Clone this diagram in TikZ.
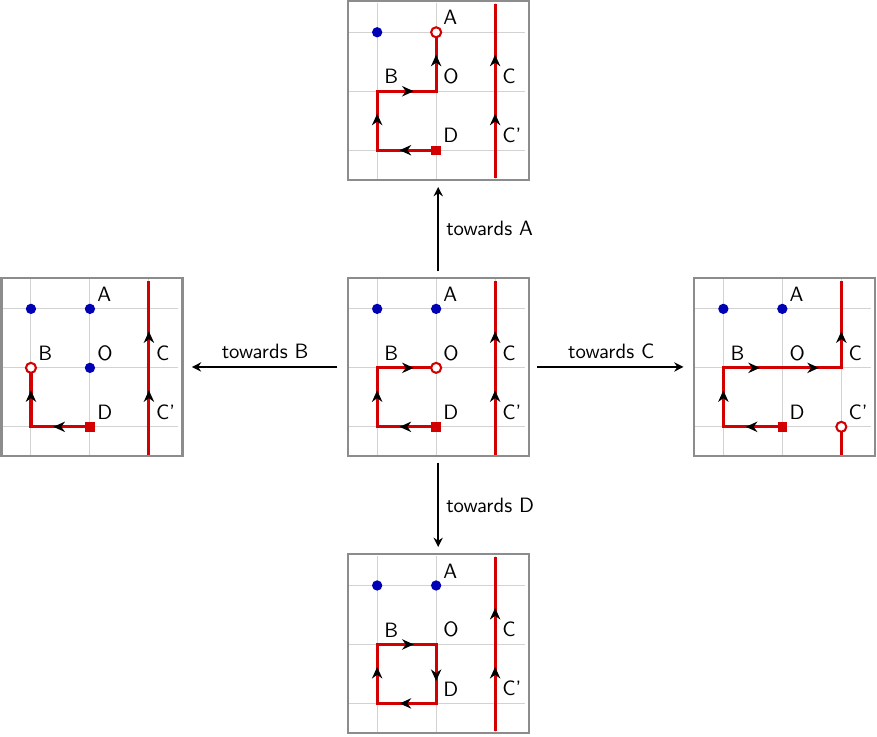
\documentclass[tikz,border=0pt]{standalone}
\usepackage{tikz}
\usetikzlibrary{arrows.meta, positioning, decorations.markings}
\definecolor{C_PATH} {HTML}{D20000}
\definecolor{C_DOT}  {HTML}{0000B4}
\definecolor{C_GRID} {HTML}{D2D2D2}
\definecolor{C_FRAME}{HTML}{8C8C8C}
\tikzset{
  %% -- panel frame --
  pnl/frame/.style={
    draw=C_FRAME, line width=1pt, inner sep=0pt,
    minimum width=3.07cm, minimum height=3.03cm
  },
  %% -- light lattice lines --
  pnl/grid/.style={draw=C_GRID, line width=0.5pt},
  %% -- lattice points --
  pnl/dot/.style={circle, fill=C_DOT, minimum size=0.175cm, inner sep=0pt},
  pnl/open/.style={circle, draw=C_PATH, fill=white, line width=1pt,
    minimum size=0.17cm, inner sep=0pt},
  pnl/start/.style={rectangle, fill=C_PATH, minimum size=0.16cm, inner sep=0pt},
  %% -- point letters --
  pnl/lbl/.style={anchor=south west, font=\sffamily},
  %% -- red strands, one black tip per unit step --
  pnl/line/.style={draw=C_PATH, line width=1.5pt},
  pnl/path/.style={
    pnl/line, postaction={decorate},
    decoration={markings,
      mark=between positions #1 and 1 step 1cm with
        {\arrow[black]{Stealth[length=5.6pt, width=5pt, inset=1.8pt]}}}
  },
  pnl/path/.default=0.62cm,
  %% -- moves between panels --
  pnl/move/.style={-{Stealth[length=4.5pt, width=4.5pt, inset=1.5pt]},
    line width=1.1pt, shorten <=2.5pt, shorten >=3pt},
  pnl/mvlbl/.style={font=\sffamily},
}
\begin{document}
\begin{tikzpicture}[x=1cm, y=1cm]

\useasboundingbox (-6.395,-5.254) rectangle (8.475,7.237);

%% ── Panel offsets ──────────────────────────────────────────────────────────
\pgfmathsetmacro{\dx}{5.87}
\pgfmathsetmacro{\dy}{4.69}

%% ══════════════════════════════════════════════════════════════════════════
%% CENTRE — starting configuration
%% ══════════════════════════════════════════════════════════════════════════
\begin{scope}
  \draw[pnl/grid] (-0.5,-0.5) grid (2.5,2.5);
  \node[pnl/frame] (fO) at (1.035,1.015) {};
  \coordinate (oK) at (0,0);   \coordinate (oE) at (0,2);
  \coordinate (oB) at (0,1);   \coordinate (oO) at (1,1);
  \coordinate (oD) at (1,0);   \coordinate (oA) at (1,2);
  \coordinate (oC) at (2,1);   \coordinate (oCp) at (2,0);
  \coordinate (oCt) at (2,2.48); \coordinate (oCb) at (2,-0.47);
  \draw[pnl/path] (oD) -- (oK) -- (oB) -- (oO);
  \draw[pnl/path=1.09cm] (oCb) -- (oCt);
  \node[pnl/dot] (oEd) at (oE) {};
  \node[pnl/dot] (oAd) at (oA) {};
  \node[pnl/open] (oOd) at (oO) {};
  \node[pnl/start] (oDd) at (oD) {};
  \node[pnl/lbl] (oAl) at (oA) {A};
  \node[pnl/lbl] (oBl) at (oB) {B};
  \node[pnl/lbl] (oOl) at (oO) {O};
  \node[pnl/lbl] (oCl) at (oC) {C};
  \node[pnl/lbl] (oDl) at (oD) {D};
  \node[pnl/lbl] (oCpl) at (oCp) {C'};
\end{scope}

%% ══════════════════════════════════════════════════════════════════════════
%% TOP — towards A
%% ══════════════════════════════════════════════════════════════════════════
\begin{scope}[shift={(0,\dy)}]
  \draw[pnl/grid] (-0.5,-0.5) grid (2.5,2.5);
  \node[pnl/frame] (fA) at (1.035,1.015) {};
  \coordinate (aK) at (0,0);   \coordinate (aE) at (0,2);
  \coordinate (aB) at (0,1);   \coordinate (aO) at (1,1);
  \coordinate (aD) at (1,0);   \coordinate (aA) at (1,2);
  \coordinate (aC) at (2,1);   \coordinate (aCp) at (2,0);
  \coordinate (aCt) at (2,2.48); \coordinate (aCb) at (2,-0.47);
  \draw[pnl/path] (aD) -- (aK) -- (aB) -- (aO) -- (aA);
  \draw[pnl/path=1.09cm] (aCb) -- (aCt);
  \node[pnl/dot] (aEd) at (aE) {};
  \node[pnl/open] (aAd) at (aA) {};
  \node[pnl/start] (aDd) at (aD) {};
  \node[pnl/lbl] (aAl) at (aA) {A};
  \node[pnl/lbl] (aBl) at (aB) {B};
  \node[pnl/lbl] (aOl) at (aO) {O};
  \node[pnl/lbl] (aCl) at (aC) {C};
  \node[pnl/lbl] (aDl) at (aD) {D};
  \node[pnl/lbl] (aCpl) at (aCp) {C'};
\end{scope}

%% ══════════════════════════════════════════════════════════════════════════
%% LEFT — towards B
%% ══════════════════════════════════════════════════════════════════════════
\begin{scope}[shift={(-\dx,0)}]
  \draw[pnl/grid] (-0.5,-0.5) grid (2.5,2.5);
  \node[pnl/frame] (fB) at (1.035,1.015) {};
  \coordinate (bK) at (0,0);   \coordinate (bE) at (0,2);
  \coordinate (bB) at (0,1);   \coordinate (bO) at (1,1);
  \coordinate (bD) at (1,0);   \coordinate (bA) at (1,2);
  \coordinate (bC) at (2,1);   \coordinate (bCp) at (2,0);
  \coordinate (bCt) at (2,2.48); \coordinate (bCb) at (2,-0.47);
  \draw[pnl/path] (bD) -- (bK) -- (bB);
  \draw[pnl/path=1.09cm] (bCb) -- (bCt);
  \node[pnl/dot] (bEd) at (bE) {};
  \node[pnl/dot] (bAd) at (bA) {};
  \node[pnl/dot] (bOd) at (bO) {};
  \node[pnl/open] (bBd) at (bB) {};
  \node[pnl/start] (bDd) at (bD) {};
  \node[pnl/lbl] (bAl) at (bA) {A};
  \node[pnl/lbl] (bBl) at (bB) {B};
  \node[pnl/lbl] (bOl) at (bO) {O};
  \node[pnl/lbl] (bCl) at (bC) {C};
  \node[pnl/lbl] (bDl) at (bD) {D};
  \node[pnl/lbl] (bCpl) at (bCp) {C'};
\end{scope}

%% ══════════════════════════════════════════════════════════════════════════
%% RIGHT — towards C
%% ══════════════════════════════════════════════════════════════════════════
\begin{scope}[shift={(\dx,0)}]
  \draw[pnl/grid] (-0.5,-0.5) grid (2.5,2.5);
  \node[pnl/frame] (fC) at (1.035,1.015) {};
  \coordinate (cK) at (0,0);   \coordinate (cE) at (0,2);
  \coordinate (cB) at (0,1);   \coordinate (cO) at (1,1);
  \coordinate (cD) at (1,0);   \coordinate (cA) at (1,2);
  \coordinate (cC) at (2,1);   \coordinate (cCp) at (2,0);
  \coordinate (cCt) at (2,2.48); \coordinate (cCb) at (2,-0.47);
  \draw[pnl/path] (cD) -- (cK) -- (cB) -- (cO) -- (cC) -- (cCt);
  \draw[pnl/line] (cCp) -- (cCb);
  \node[pnl/dot] (cEd) at (cE) {};
  \node[pnl/dot] (cAd) at (cA) {};
  \node[pnl/open] (cCpd) at (cCp) {};
  \node[pnl/start] (cDd) at (cD) {};
  \node[pnl/lbl] (cAl) at (cA) {A};
  \node[pnl/lbl] (cBl) at (cB) {B};
  \node[pnl/lbl] (cOl) at (cO) {O};
  \node[pnl/lbl] (cCl) at (cC) {C};
  \node[pnl/lbl] (cDl) at (cD) {D};
  \node[pnl/lbl] (cCpl) at (cCp) {C'};
\end{scope}

%% ══════════════════════════════════════════════════════════════════════════
%% BOTTOM — towards D (closed loop)
%% ══════════════════════════════════════════════════════════════════════════
\begin{scope}[shift={(0,-\dy)}]
  \draw[pnl/grid] (-0.5,-0.5) grid (2.5,2.5);
  \node[pnl/frame] (fD) at (1.035,1.015) {};
  \coordinate (dK) at (0,0);   \coordinate (dE) at (0,2);
  \coordinate (dB) at (0,1);   \coordinate (dO) at (1,1);
  \coordinate (dD) at (1,0);   \coordinate (dA) at (1,2);
  \coordinate (dC) at (2,1);   \coordinate (dCp) at (2,0);
  \coordinate (dCt) at (2,2.48); \coordinate (dCb) at (2,-0.47);
  \draw[pnl/path] (dD) -- (dK) -- (dB) -- (dO) -- cycle;
  \draw[pnl/path=1.09cm] (dCb) -- (dCt);
  \node[pnl/dot] (dEd) at (dE) {};
  \node[pnl/dot] (dAd) at (dA) {};
  \node[pnl/lbl] (dAl) at (dA) {A};
  \node[pnl/lbl] (dBl) at (dB) {B};
  \node[pnl/lbl] (dOl) at (dO) {O};
  \node[pnl/lbl] (dCl) at (dC) {C};
  \node[pnl/lbl] (dDl) at (dD) {D};
  \node[pnl/lbl] (dCpl) at (dCp) {C'};
\end{scope}

%% ── Moves ──────────────────────────────────────────────────────────────────
\draw[pnl/move] (fO.north) -- node[pnl/mvlbl, right] (mA) {towards A} (fA.south);
\draw[pnl/move, shorten <=4.5pt, shorten >=4pt] (fO.west) -- node[pnl/mvlbl, above] (mB) {towards B} (fB.east);
\draw[pnl/move, shorten <=3.5pt, shorten >=4.5pt] (fO.east) -- node[pnl/mvlbl, above] (mC) {towards C} (fC.west);
\draw[pnl/move] (fO.south) -- node[pnl/mvlbl, right] (mD) {towards D} (fD.north);

\end{tikzpicture}
\end{document}
